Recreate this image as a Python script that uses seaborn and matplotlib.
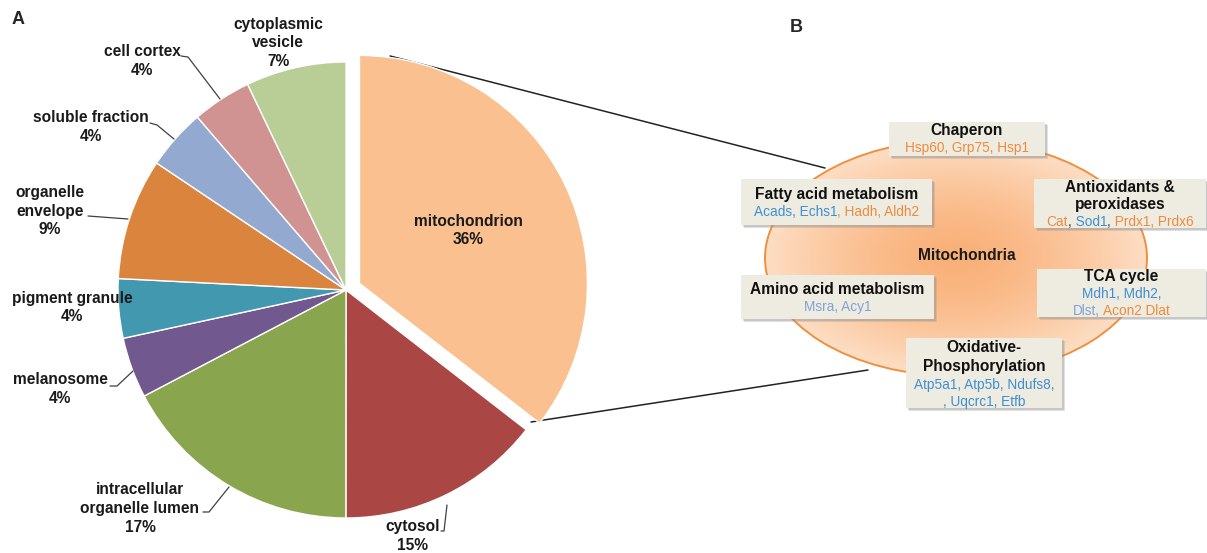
import numpy as np
import matplotlib
matplotlib.use("Agg")
import matplotlib.pyplot as plt
import seaborn as sns
from matplotlib.patches import Ellipse, Rectangle

# ---- data -------------------------------------------------------------
categories = ["mitochondrion", "cytosol", "intracellular organelle lumen",
              "melanosome", "pigment granule", "organelle envelope",
              "soluble fraction", "cell cortex", "cytoplasmic vesicle"]
percent = [35.5, 14.51, 17.29, 4.3, 4.2, 8.6, 4.3, 4.2, 7.1]
label_lines = [["mitochondrion"], ["cytosol"], ["intracellular", "organelle lumen"],
               ["melanosome"], ["pigment granule"], ["organelle", "envelope"],
               ["soluble fraction"], ["cell cortex"], ["cytoplasmic", "vesicle"]]
slice_colors = ["#FAC090", "#AA4643", "#89A54E", "#71588F", "#4198AF",
                "#DB843D", "#93A9CF", "#D19392", "#B9CD96"]

group_titles = [["Chaperon"], ["Fatty acid metabolism"],
                ["Antioxidants &", "peroxidases"], ["TCA cycle"],
                ["Amino acid metabolism"], ["Oxidative-", "Phosphorylation"]]
# each gene line is a list of (text, colour key) segments
group_genes = [
    [[("Hsp60, Grp75, Hsp1", "up")]],
    [[("Acads, Echs1", "down"), (", Hadh, Aldh2", "up")]],
    [[("Cat", "up"), (",", "sep"), (" Sod1", "down"), (",", "sep"),
      (" Prdx1, Prdx6", "up")]],
    [[("Mdh1, Mdh2,", "down")], [("Dlst,", "light"), (" Acon2 Dlat", "up")]],
    [[("Msra, Acy1", "light")]],
    [[("Atp5a1, Atp5b, Ndufs8,", "down")], [(", Uqcrc1, Etfb", "down")]],
]
gene_palette = {"up": "#EE8A3E", "down": "#3F8ED3", "light": "#7FA3D8",
                "sep": "#404040"}

# ---- layout (pixel coordinates, origin top-left) -----------------------
W, H = 1207, 553
pie_center = (346, 290)
pie_radius = 228
explode_px = 15

# label block centre (x, y of first line), leader polyline
pie_label_layout = [
    ((468, 221), None),
    ((413, 527), [(441, 531), (444, 531), (447, 505)]),
    ((140, 490), [(203, 512), (209, 512), (229, 487)]),
    ((60, 380), [(110, 386), (117, 386), (133, 371)]),
    ((72, 298), None),
    ((50, 193), [(88, 216), (128, 219)]),
    ((91, 118), [(150, 123), (157, 125), (174, 139)]),
    ((142, 52), [(181, 56), (188, 57), (220, 99)]),
    ((278, 24), None),
]
line_step = 18.5

# box: (x0, y0, x1, y1, y of each text line)
box_layout = [
    (889, 122, 1045, 156, [131, 148]),
    (741, 179, 932, 225, [195, 212]),
    (1034, 179, 1206, 228, [187, 205, 222]),
    (1037, 269, 1206, 317, [277, 294, 311]),
    (741, 275, 934, 319, [289, 307]),
    (906, 338, 1062, 408, [348, 367, 385, 402]),
]

sns.set_theme(style="white")
plt.rcParams["font.family"] = ["Liberation Sans", "DejaVu Sans"]

fig = plt.figure(figsize=(W / 100, H / 100), dpi=100)
ax = fig.add_axes([0, 0, 1, 1])
ax.set_xlim(0, W)
ax.set_ylim(H, 0)
ax.set_aspect("equal")
ax.axis("off")

# ---- panel A: pie ------------------------------------------------------
explode = [explode_px] + [0] * (len(percent) - 1)
wedges, _ = ax.pie(percent, colors=slice_colors, startangle=-90,
                   counterclock=True, center=pie_center, radius=pie_radius,
                   explode=explode,
                   wedgeprops=dict(edgecolor="white", linewidth=1.0))
for w in wedges:
    w.set_zorder(2)

label_font = dict(fontsize=11.2, fontweight="bold", color="#1a1a1a",
                  ha="center", va="center", zorder=5)
for lines, pct, ((lx, ly), leader) in zip(label_lines, percent, pie_label_layout):
    for i, s in enumerate(lines + [f"{pct:.0f}%"]):
        ax.text(lx, ly + i * line_step, s, **label_font)
    if leader:
        xs, ys = zip(*leader)
        ax.plot(xs, ys, color="#404040", lw=0.9, zorder=4)

ax.text(12, 19, "A", fontsize=13, fontweight="bold", ha="left", va="center")
ax.text(790, 28, "B", fontsize=13, fontweight="bold", ha="left", va="center")

# ---- zoom lines from the mitochondrion slice to panel B -------------------
ax.plot([390, 825], [56, 168], color="#222222", lw=1.1, zorder=1)
ax.plot([531, 868], [422, 370], color="#222222", lw=1.1, zorder=1)

# ---- panel B: mitochondria ellipse with radial gradient -------------------
ecx, ecy, ea, eb = 956, 258, 191, 118
gx = np.linspace(-1, 1, 400)
gy = np.linspace(-1, 1, 260)
GX, GY = np.meshgrid(gx, gy)
r = np.clip(np.sqrt(GX ** 2 + GY ** 2), 0, 1)
c_in = np.array([249, 176, 120]) / 255
c_out = np.array([253, 222, 196]) / 255
t = r[..., None] ** 1.5
img = c_in * (1 - t) + c_out * t
im = ax.imshow(img, extent=(ecx - ea, ecx + ea, ecy + eb, ecy - eb),
               zorder=2, interpolation="bilinear")
ell = Ellipse((ecx, ecy), 2 * ea, 2 * eb, facecolor="none",
              edgecolor="#F0903F", lw=1.4, zorder=3)
ax.add_patch(ell)
im.set_clip_path(ell)
ax.set_xlim(0, W)
ax.set_ylim(H, 0)

ax.text(967, 256, "Mitochondria", fontsize=11.2, fontweight="bold",
        ha="center", va="center", color="#1a1a1a", zorder=5)

fig.canvas.draw()
renderer = fig.canvas.get_renderer()


def text_width(s, **kw):
    tmp = ax.text(0, 0, s, **kw)
    wdt = tmp.get_window_extent(renderer).width
    tmp.remove()
    return wdt


gene_font = dict(fontsize=9.8, va="center", zorder=7)
for titles, genes, (x0, y0, x1, y1, ys) in zip(group_titles, group_genes, box_layout):
    ax.add_patch(Rectangle((x0 + 3, y0 + 3), x1 - x0, y1 - y0,
                           facecolor="#9a9a9a", alpha=0.3, lw=0, zorder=5))
    ax.add_patch(Rectangle((x0 + 1.5, y0 + 1.5), x1 - x0, y1 - y0,
                           facecolor="#8a8a8a", alpha=0.3, lw=0, zorder=5))
    ax.add_patch(Rectangle((x0, y0), x1 - x0, y1 - y0,
                           facecolor="#EEECE1", lw=0, zorder=6))
    cx = (x0 + x1) / 2
    k = 0
    for s in titles:
        ax.text(cx, ys[k], s, fontsize=11.2, fontweight="bold", ha="center",
                va="center", color="#111111", zorder=7)
        k += 1
    for segs in genes:
        full = "".join(s for s, _ in segs)
        total = text_width(full, **gene_font)
        start = cx - total / 2
        prefix = ""
        for s, key in segs:
            off = text_width(prefix, **gene_font) if prefix else 0
            ax.text(start + off, ys[k], s, ha="left", color=gene_palette[key],
                    **gene_font)
            prefix += s
        k += 1

fig.savefig("out.png", dpi=100, facecolor="white")
